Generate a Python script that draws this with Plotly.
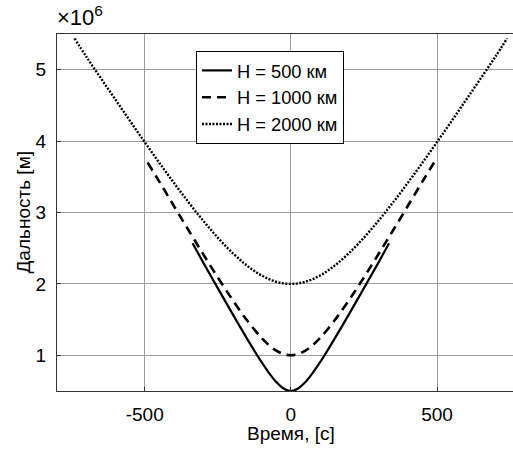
import plotly.graph_objects as go

# Slant range vs. time for three orbit altitudes (range in units of 10^6 m)
t_500 = [-336, -300, -250, -200, -150, -125, -100, -75, -50, -25, 0,
         25, 50, 75, 100, 125, 150, 200, 250, 300, 336]
r_500 = [2.57, 2.302, 1.941, 1.583, 1.233, 1.065, 0.903, 0.754, 0.626, 0.534, 0.500,
         0.534, 0.626, 0.754, 0.903, 1.065, 1.233, 1.583, 1.941, 2.302, 2.57]

t_1000 = [-490, -450, -400, -350, -300, -250, -200, -150, -100, -75, -50, -25, 0,
          25, 50, 75, 100, 150, 200, 250, 300, 350, 400, 450, 490]
r_1000 = [3.70, 3.433, 3.091, 2.752, 2.418, 2.091, 1.779, 1.490, 1.242, 1.143, 1.066, 1.017, 1.000,
          1.017, 1.066, 1.143, 1.242, 1.490, 1.779, 2.091, 2.418, 2.752, 3.091, 3.433, 3.70]

t_2000 = [-740, -700, -650, -600, -550, -500, -450, -400, -350, -300, -250, -200, -150, -100, -50, 0,
          50, 100, 150, 200, 250, 300, 350, 400, 450, 500, 550, 600, 650, 700, 740]
r_2000 = [5.44, 5.184, 4.881, 4.580, 4.281, 3.986, 3.696, 3.415, 3.143, 2.886, 2.648, 2.436, 2.256, 2.118, 2.030, 2.000,
          2.030, 2.118, 2.256, 2.436, 2.648, 2.886, 3.143, 3.415, 3.696, 3.986, 4.281, 4.580, 4.881, 5.184, 5.44]

names = ["H = 500 км", "H = 1000 км", "H = 2000 км"]
x_ticks = [-500, 0, 500]
x_tick_text = ["-500", "0", "500"]
y_ticks = [1, 2, 3, 4, 5]

FONT = "Liberation Sans, Arial, sans-serif"
W, H = 513, 455
ML, MR, MT, MB = 57, 0, 34, 64

fig = go.Figure()
fig.add_trace(go.Scatter(x=t_500, y=r_500, name=names[0], mode="lines",
                         line=dict(color="black", width=2.2, shape="spline")))
fig.add_trace(go.Scatter(x=t_1000, y=r_1000, name=names[1], mode="lines",
                         line=dict(color="black", width=2.6, dash="9px,6px", shape="spline")))
fig.add_trace(go.Scatter(x=t_2000, y=r_2000, name=names[2], mode="lines",
                         line=dict(color="black", width=2.4, dash="2px,1.5px", shape="spline")))

axis_common = dict(
    showgrid=True, gridcolor="#9c9c9c", gridwidth=1,
    showline=True, linecolor="#333333", linewidth=1,
    ticks="inside", ticklen=4, tickcolor="#333333",
    zeroline=False,
    tickfont=dict(family=FONT, size=19, color="black"),
)

fig.update_layout(
    width=W, height=H,
    margin=dict(l=ML, r=MR, t=MT, b=MB, pad=0),
    paper_bgcolor="white", plot_bgcolor="white",
    font=dict(family=FONT, size=19, color="black"),
    xaxis=dict(range=[-800, 760], tickvals=x_ticks, ticktext=x_tick_text, mirror=True,
               ticklabelstandoff=6, **axis_common),
    yaxis=dict(range=[0.5, 5.5], tickvals=y_ticks, mirror=False,
               ticklabelstandoff=6, **axis_common),
    legend=dict(
        x=(196 - ML) / (W - ML - MR), y=(H - MB - 51) / (H - MT - MB),
        xanchor="left", yanchor="top",
        bgcolor="white", bordercolor="black", borderwidth=1,
        font=dict(family=FONT, size=18.3, color="black"),
        itemwidth=30, tracegroupgap=0,
    ),
    showlegend=True,
)

fig.add_annotation(text="Время, [с]", xref="x", x=0, yref="paper", y=0,
                   yanchor="middle", yshift=-42, showarrow=False,
                   font=dict(family=FONT, size=19, color="black"))
fig.add_annotation(text="Дальность [м]", xref="paper", x=0, xshift=-34,
                   yref="paper", y=0.5, textangle=-90, showarrow=False,
                   xanchor="center", yanchor="middle",
                   font=dict(family=FONT, size=19, color="black"))
fig.add_annotation(text="×10<sup>6</sup>", xref="paper", x=0, xanchor="left", xshift=-2,
                   yref="paper", y=1, yanchor="bottom", yshift=2, showarrow=False,
                   font=dict(family=FONT, size=22, color="black"))

fig.write_html("out.html")
